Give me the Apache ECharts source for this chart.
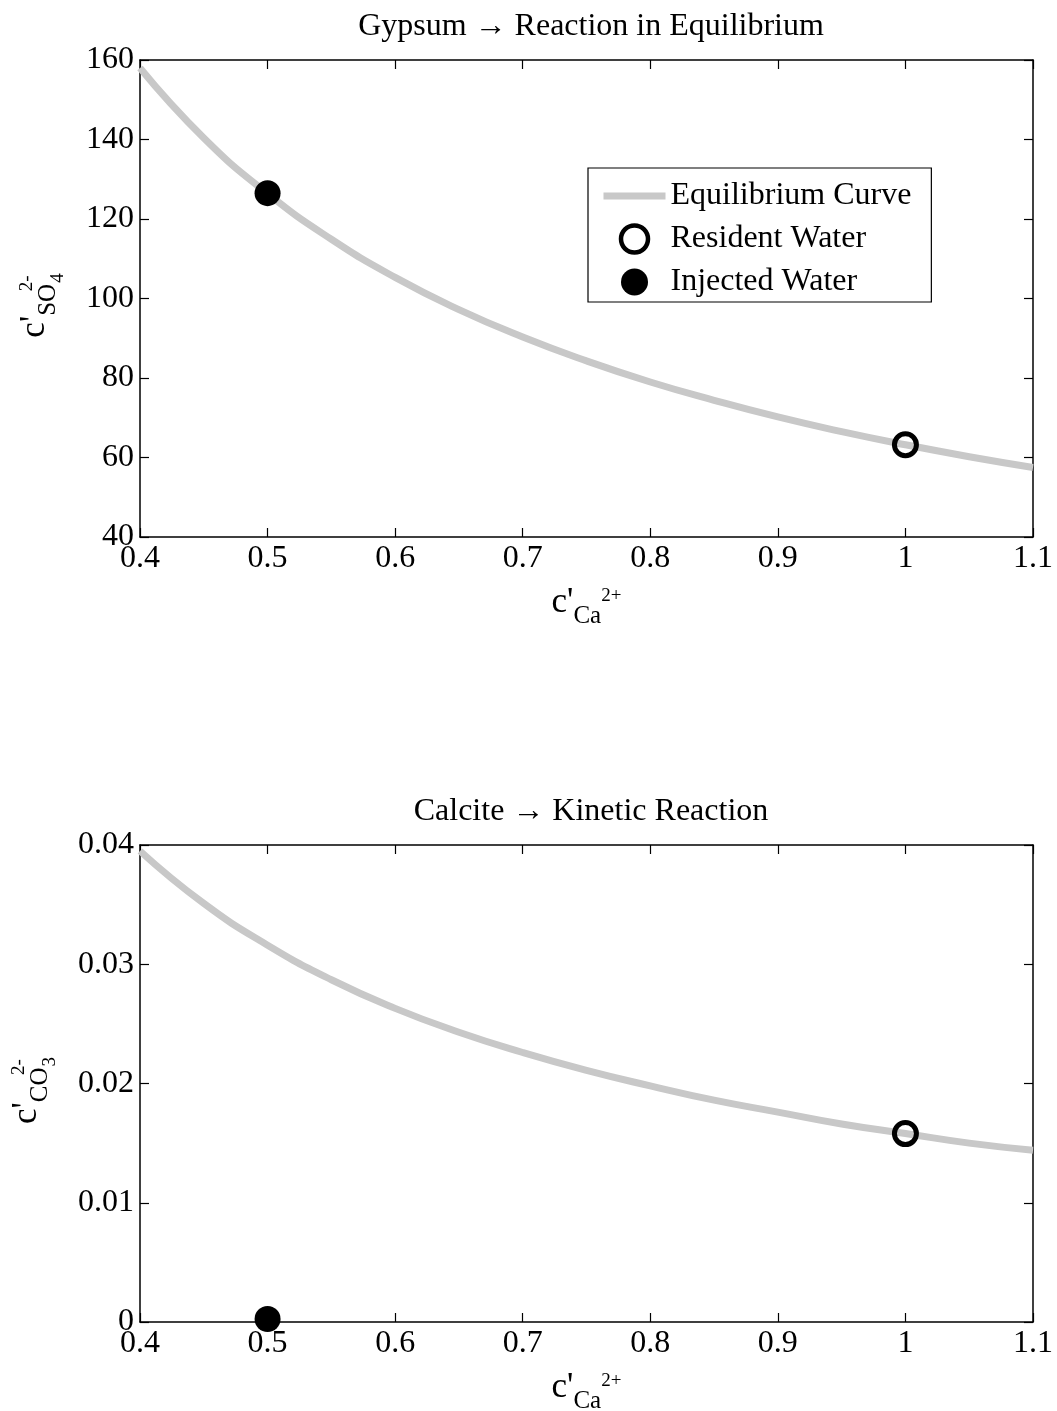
<!DOCTYPE html>
<html><head><meta charset="utf-8">
<script src="https://cdn.jsdelivr.net/npm/echarts@6/dist/echarts.min.js"></script>
<style>html,body{margin:0;padding:0;background:#fff}#c{width:1057px;height:1411px}</style>
</head><body><div id="c"></div>
<script>
// ---- data ----
const curveX        = [0.40, 0.45, 0.50, 0.55, 0.60, 0.65, 0.70, 0.75, 0.80, 0.85, 0.90, 0.95, 1.00, 1.05, 1.10];
const gypsumCurve   = [158.0, 140.4, 126.4, 114.9, 105.3, 97.2, 90.3, 84.3, 79.0, 74.4, 70.2, 66.5, 63.2, 60.2, 57.5];
const calciteCurve  = [0.0395, 0.0351, 0.0316, 0.0287, 0.0263, 0.0243, 0.0226, 0.0211, 0.0198, 0.0186, 0.0176, 0.0166, 0.0158, 0.0150, 0.0144];
const residentGypsum  = [[1.0, 63.2]];
const injectedGypsum  = [[0.5, 126.5]];
const residentCalcite = [[1.0, 0.0158]];
const injectedCalcite = [[0.5, 0.00025]];
const xRange      = [0.4, 1.1, 0.1];
const gypsumRange = [40, 160, 20];
const calciteRange= [0, 0.04, 0.01];
const titles = ['Gypsum \u2192 Reaction in Equilibrium', 'Calcite \u2192 Kinetic Reaction'];
const seriesNames = ['Equilibrium Curve', 'Resident Water', 'Injected Water'];

const FONT = '"Liberation Serif", "Times New Roman", serif';
const CURVE = '#c8c8c8';
const pair = (xs, ys) => xs.map((x, i) => [x, ys[i]]);

const nameRich = {
  c:   { fontSize: 35, fontFamily: FONT, color: '#000' },
  sub: { fontSize: 25, fontFamily: FONT, color: '#000', padding: [28, 0, 0, 0] },
  sup: { fontSize: 19, fontFamily: FONT, color: '#000', padding: [0, 0, 12, 0] },
  supw:{ fontSize: 19, fontFamily: FONT, color: '#000', padding: [0, 0, 14, 0], width: 1 },
  sub2:{ fontSize: 19, fontFamily: FONT, color: '#000', padding: [48, 0, 0, 0] }
};

function xAx(gi, pos, show) {
  return {
    type: 'value', gridIndex: gi, position: pos,
    min: xRange[0], max: xRange[1], interval: xRange[2],
    axisLine: { show: true, onZero: false, lineStyle: { color: '#000', width: 1.5 } },
    axisTick: { show: true, inside: true, length: 9, lineStyle: { color: '#000', width: 1.2 } },
    axisLabel: { show: show, color: '#000', fontSize: 32, fontFamily: FONT, margin: 6 },
    splitLine: { show: false },
    name: show ? '{c|c\'}{sub|Ca}{sup|2+}' : '',
    nameLocation: 'middle', nameGap: 39,
    nameTextStyle: { rich: nameRich }
  };
}
function yAx(gi, pos, show, r, nm, gap) {
  return {
    type: 'value', gridIndex: gi, position: pos,
    min: r[0], max: r[1], interval: r[2],
    axisLine: { show: true, onZero: false, lineStyle: { color: '#000', width: 1.5 } },
    axisTick: { show: true, inside: true, length: 9, lineStyle: { color: '#000', width: 1.2 } },
    axisLabel: { show: show, color: '#000', fontSize: 32, fontFamily: FONT, margin: 6 },
    splitLine: { show: false },
    name: show ? nm : '',
    nameLocation: 'middle', nameGap: gap || 70, nameRotate: 90,
    nameMoveOverlap: false,
    nameTextStyle: { rich: nameRich, padding: [0, 14, 0, 0] }
  };
}

function seriesFor(gi, curve, res, inj) {
  return [
    { name: seriesNames[0], type: 'line', xAxisIndex: gi * 2, yAxisIndex: gi * 2,
      data: pair(curveX, curve), smooth: true, symbol: 'none',
      lineStyle: { color: CURVE, width: 7 }, itemStyle: { color: CURVE }, z: 2 },
    { name: seriesNames[1], type: 'scatter', xAxisIndex: gi * 2, yAxisIndex: gi * 2,
      data: res, symbol: 'circle', symbolSize: 22,
      itemStyle: { color: 'rgba(255,255,255,0)', borderColor: '#000', borderWidth: 5, opacity: 1 }, z: 5 },
    { name: seriesNames[2], type: 'scatter', xAxisIndex: gi * 2, yAxisIndex: gi * 2,
      data: inj, symbol: 'circle', symbolSize: 26,
      itemStyle: { color: '#000', borderWidth: 0, opacity: 1 }, z: 5 }
  ];
}

const chart = echarts.init(document.getElementById('c'), null, { renderer: 'canvas' });
chart.setOption({
  animation: false,
  backgroundColor: '#fff',
  title: [
    { text: titles[0], left: 586, top: 6, textAlign: 'center',
      textStyle: { fontFamily: FONT, fontSize: 32, fontWeight: 'normal', color: '#000' } },
    { text: titles[1], left: 586, top: 791, textAlign: 'center',
      textStyle: { fontFamily: FONT, fontSize: 32, fontWeight: 'normal', color: '#000' } }
  ],
  legend: {
    data: [
      { name: seriesNames[0], itemStyle: { opacity: 0 }, lineStyle: { width: 7, color: CURVE } },
      { name: seriesNames[1], itemStyle: { color: '#fff', borderColor: '#000', borderWidth: 4.5, opacity: 1 } },
      { name: seriesNames[2], itemStyle: { color: '#000', borderWidth: 0, opacity: 1 } }
    ],
    orient: 'vertical', left: 588, top: 168,
    padding: [12, 20, 4, 12], itemGap: 11, itemWidth: 62, itemHeight: 27, itemTextGap: 7,
    borderColor: '#000', borderWidth: 1.2, backgroundColor: '#fff', borderRadius: 0,
    textStyle: { fontFamily: FONT, fontSize: 32, color: '#000' }
  },
  grid: [
    { left: 140, right: 24, top: 60, height: 477, outerBoundsMode: 'none' },
    { left: 140, right: 24, top: 845, height: 477, outerBoundsMode: 'none' }
  ],
  xAxis: [xAx(0, 'bottom', true), xAx(0, 'top', false), xAx(1, 'bottom', true), xAx(1, 'top', false)],
  yAxis: [
    yAx(0, 'left', true, gypsumRange, '{c|c\'}{sub|SO}{supw|2-}{sub2|4}', 72),
    yAx(0, 'right', false, gypsumRange, ''),
    yAx(1, 'left', true, calciteRange, '{c|c\'}{sub|CO}{supw|2-}{sub2|3}', 80),
    yAx(1, 'right', false, calciteRange, '')
  ],
  series: [].concat(
    seriesFor(0, gypsumCurve, residentGypsum, injectedGypsum),
    seriesFor(1, calciteCurve, residentCalcite, injectedCalcite)
  )
});
</script></body></html>
